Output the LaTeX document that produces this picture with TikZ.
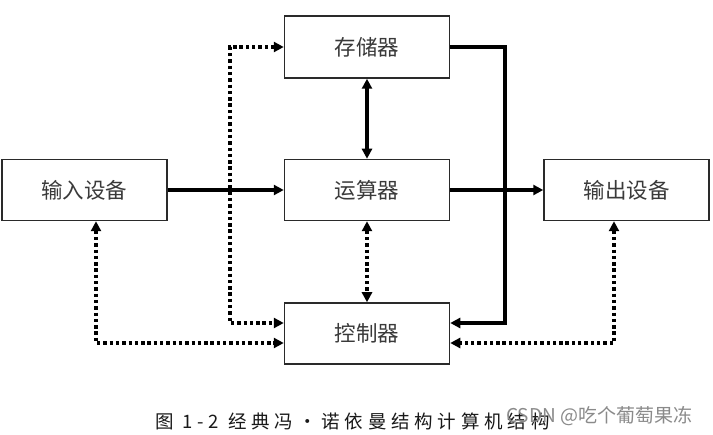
\documentclass[tikz,border=0pt]{standalone}
\usepackage{fontspec}
\setmainfont{Noto Sans CJK SC}
\newfontfamily\cjk{Noto Sans CJK SC}
\newfontfamily\cjkcap[LetterSpace=26]{Noto Sans CJK SC}
\usetikzlibrary{arrows.meta}
\definecolor{boxline}{HTML}{2A2A2A}
\definecolor{txt}{HTML}{3A3A3A}
\definecolor{wm}{HTML}{8A8A8A}
\tikzset{
  unitbox/.style={draw=boxline, line width=1.5pt, fill=white, text=txt,
    minimum width=165pt, minimum height=61pt, inner sep=0pt,
    font=\cjk\fontsize{21.5}{21.5}\selectfont},
  solidarrow/.style={line width=3.4pt, -{Triangle[length=10pt,width=10pt]}},
  solidboth/.style={line width=3.4pt, {Triangle[length=10pt,width=10pt]}-{Triangle[length=10pt,width=10pt]}},
  dotboth/.style={line width=3.6pt, dash pattern=on 3.4pt off 2.9pt,
    {Triangle[length=10pt,width=10pt]}-{Triangle[length=10pt,width=10pt]}}
}
\begin{document}
\begin{tikzpicture}[x=1pt,y=-1pt]
\useasboundingbox (0,0) rectangle (713,435);
\fill[white] (0,0) rectangle (713,435);

\node[unitbox, minimum height=62pt] (mem) at (367,47) {存储器};
\node[unitbox] (alu) at (367,190) {运算器};
\node[unitbox] (in)  at (84.5,190) {输入设备};
\node[unitbox] (out) at (626.5,190) {输出设备};
\node[unitbox] (ctl) at (367,333.5) {控制器};

\coordinate (bus) at (505,323);
\coordinate (cL) at (230,323);
\coordinate (cIn) at (96,343);
\coordinate (cOut) at (614,343);

% solid connectors
\draw[solidarrow] (in.east) -- (alu.west);
\draw[solidarrow] (alu.east) -- (out.west);
\draw[solidboth] (mem.south) -- (alu.north);
\draw[solidarrow] (mem.east) -| (bus) -- (ctl.east |- bus);

% dotted connectors
\draw[dotboth] (mem.west) -| (cL) -- (ctl.west |- cL);
\draw[dotboth] (alu.south) -- (ctl.north);
\draw[dotboth] (in.south -| cIn) -- (cIn) -- (ctl.west |- cIn);
\draw[dotboth] (out.south -| cOut) -- (cOut) -- (ctl.east |- cOut);

% caption and watermark
\node[anchor=west, inner sep=0pt, text=black!90, font=\cjkcap\fontsize{18.5}{18.5}\selectfont] (cap) at (155,421) {图 1-2 经典冯·诺依曼结构计算机结构};
\node[anchor=west, inner sep=0pt, text=wm, font=\cjk\fontsize{19}{19}\selectfont] (wmk) at (506,416) {CSDN @吃个葡萄果冻};
\end{tikzpicture}
\end{document}
